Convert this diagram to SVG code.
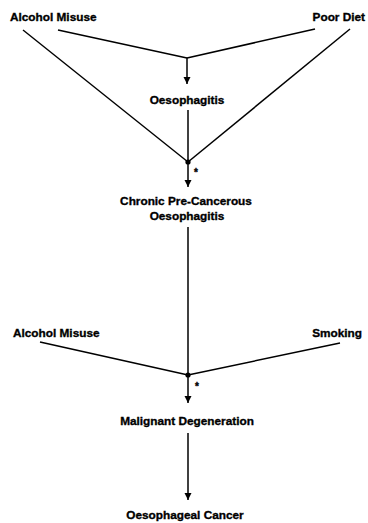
<svg xmlns="http://www.w3.org/2000/svg" width="368" height="523" viewBox="0 0 368 523">
<style>
text{font-family:"Liberation Sans",Arial,sans-serif;font-weight:bold;font-size:11.8px;fill:#000;stroke:#000;stroke-width:0.35}
.c line{stroke:#000;stroke-width:1.5;fill:none}
.a{marker-end:url(#ah)}
.star{font-size:10px}
</style>
<defs>
<marker id="ah" viewBox="0 0 10 10" refX="10" refY="5" markerWidth="7" markerHeight="9" markerUnits="userSpaceOnUse" orient="auto">
<path d="M0,0 L10,5 L0,10 z" fill="#000"/>
</marker>
</defs>
<rect width="368" height="523" fill="#fff"/>
<g class="c" id="connectors">
<line x1="58" y1="30" x2="187" y2="58"/>
<line x1="315" y1="29" x2="187" y2="58"/>
<line class="a" x1="187" y1="58" x2="187" y2="84"/>
<line x1="23" y1="30" x2="188" y2="162"/>
<line x1="350" y1="29" x2="188" y2="162"/>
<line x1="188" y1="110" x2="188" y2="162"/>
<line class="a" x1="188" y1="162" x2="188" y2="187"/>
<circle cx="188" cy="162" r="2.6" fill="#000"/>
<text class="star" x="194" y="176">*</text>
<line x1="188" y1="227" x2="188" y2="375"/>
<line x1="40" y1="342" x2="188" y2="375"/>
<line x1="340" y1="343" x2="188" y2="375"/>
<line class="a" x1="188" y1="375" x2="188" y2="403"/>
<circle cx="188" cy="375" r="2.6" fill="#000"/>
<text class="star" x="195" y="390">*</text>
<line class="a" x1="188" y1="433" x2="188" y2="500"/>
</g>
<g id="alcohol1"><text x="10" y="21">Alcohol Misuse</text></g>
<g id="poordiet"><text x="365" y="21" text-anchor="end">Poor Diet</text></g>
<g id="oesophagitis"><text x="187" y="104" text-anchor="middle">Oesophagitis</text></g>
<g id="chronic"><text x="186" y="205" text-anchor="middle">Chronic Pre-Cancerous</text><text x="187" y="220" text-anchor="middle">Oesophagitis</text></g>
<g id="alcohol2"><text x="13" y="337">Alcohol Misuse</text></g>
<g id="smoking"><text x="362" y="337" text-anchor="end">Smoking</text></g>
<g id="malignant"><text x="187" y="425" text-anchor="middle">Malignant Degeneration</text></g>
<g id="cancer"><text x="185" y="519" text-anchor="middle">Oesophageal Cancer</text></g>
</svg>
